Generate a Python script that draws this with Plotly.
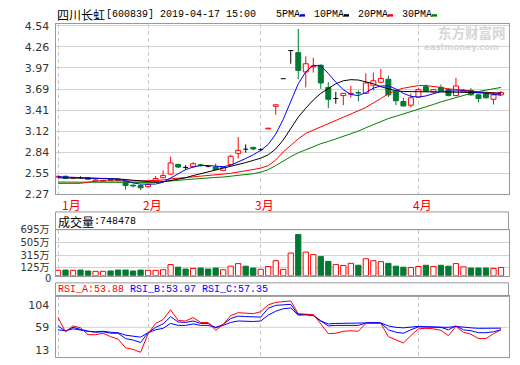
import plotly.graph_objects as go

W, H = 520, 365
def px(x): return x / W
def py(y): return 1 - y / H

# ---------------- data ----------------
stock_name = "四川长虹"
stock_code = "[600839]"
dates = ["2019-01-16","2019-01-17","2019-01-18","2019-01-21","2019-01-22","2019-01-23","2019-01-24","2019-01-25","2019-01-28","2019-01-29",
         "2019-01-30","2019-01-31","2019-02-01","2019-02-11","2019-02-12","2019-02-13","2019-02-14","2019-02-15","2019-02-18","2019-02-19",
         "2019-02-20","2019-02-21","2019-02-22","2019-02-25","2019-02-26","2019-02-27","2019-02-28","2019-03-01","2019-03-04","2019-03-05",
         "2019-03-06","2019-03-07","2019-03-08","2019-03-11","2019-03-12","2019-03-13","2019-03-14","2019-03-15","2019-03-18","2019-03-19",
         "2019-03-20","2019-03-21","2019-03-22","2019-03-25","2019-03-26","2019-03-27","2019-03-28","2019-03-29","2019-04-01","2019-04-02",
         "2019-04-03","2019-04-04","2019-04-08","2019-04-09","2019-04-10","2019-04-11","2019-04-12","2019-04-15","2019-04-16","2019-04-17"]
month_names = ["1月", "2月", "3月", "4月"]

open_ = [2.50,2.51,2.485,2.492,2.49,2.445,2.445,2.465,2.47,2.435,
         2.39,2.385,2.37,2.445,2.49,2.54,2.67,2.632,2.64,2.665,
         2.647,2.635,2.59,2.67,2.82,2.878,2.90,2.868,3.15,3.455,
         3.826,4.206,4.18,3.92,3.99,4.01,3.71,3.558,3.60,3.62,
         3.64,3.63,3.74,3.78,3.82,3.65,3.52,3.47,3.58,3.72,
         3.65,3.71,3.68,3.60,3.65,3.67,3.61,3.62,3.55,3.61]
high = [2.52,2.52,2.50,2.51,2.50,2.47,2.46,2.47,2.48,2.44,
        2.40,2.40,2.41,2.515,2.59,2.775,2.68,2.66,2.70,2.68,
        2.66,2.68,2.64,2.80,3.04,2.94,2.91,2.89,3.16,3.476,
        3.829,4.21,4.50,4.13,4.11,4.02,3.78,3.65,3.635,3.73,
        3.67,3.90,3.91,3.96,3.87,3.66,3.57,3.63,3.70,3.75,
        3.69,3.75,3.70,3.84,3.69,3.70,3.62,3.64,3.64,3.66]
low = [2.49,2.475,2.48,2.48,2.46,2.44,2.44,2.45,2.45,2.33,
       2.36,2.325,2.36,2.44,2.485,2.53,2.62,2.60,2.63,2.64,
       2.63,2.595,2.58,2.66,2.75,2.83,2.86,2.85,3.15,3.34,
       3.826,4.03,3.82,3.71,3.91,3.69,3.43,3.49,3.47,3.57,
       3.52,3.62,3.67,3.77,3.58,3.47,3.45,3.44,3.57,3.65,
       3.64,3.65,3.59,3.59,3.64,3.60,3.51,3.56,3.48,3.60]
close = [2.51,2.48,2.49,2.488,2.47,2.46,2.455,2.455,2.455,2.385,
         2.38,2.355,2.40,2.48,2.52,2.69,2.635,2.628,2.68,2.655,
         2.643,2.60,2.63,2.78,2.86,2.874,2.88,2.872,3.16,3.476,
         3.829,4.21,3.94,4.03,4.00,3.77,3.55,3.562,3.63,3.63,
         3.635,3.77,3.80,3.83,3.61,3.53,3.46,3.57,3.68,3.66,
         3.68,3.66,3.60,3.73,3.67,3.61,3.56,3.57,3.61,3.64]
volume = [83,87,83,87,73,68,68,73,87,87,
          73,87,83,83,92,170,131,102,112,117,
          102,117,92,146,185,146,117,98,141,229,
          98,345,627,360,321,291,219,170,156,189,
          160,258,229,214,189,146,131,127,141,160,
          141,160,146,185,136,117,117,117,112,127]
volume_label = "748478"

ma5 = [2.505,2.50,2.495,2.49,2.49,2.485,2.48,2.475,2.47,2.45,
       2.42,2.405,2.40,2.405,2.43,2.49,2.55,2.60,2.635,2.655,
       2.655,2.645,2.64,2.66,2.70,2.75,2.80,2.86,2.94,3.08,
       3.28,3.52,3.76,3.92,4.01,4.00,3.90,3.78,3.68,3.615,
       3.60,3.64,3.70,3.73,3.73,3.69,3.63,3.59,3.58,3.595,
       3.625,3.655,3.66,3.665,3.665,3.655,3.64,3.63,3.61,3.605]
ma10 = [2.49,2.49,2.49,2.49,2.49,2.487,2.485,2.48,2.475,2.465,
        2.455,2.445,2.435,2.43,2.435,2.45,2.47,2.49,2.52,2.545,
        2.57,2.59,2.61,2.635,2.67,2.695,2.725,2.755,2.80,2.88,
        3.00,3.15,3.31,3.43,3.54,3.63,3.70,3.76,3.80,3.815,
        3.81,3.79,3.76,3.72,3.69,3.665,3.655,3.655,3.655,3.655,
        3.65,3.65,3.645,3.645,3.645,3.64,3.64,3.635,3.635,3.633]
ma20 = [2.415,2.415,2.415,2.415,2.43,2.445,2.448,2.45,2.45,2.448,
        2.447,2.447,2.448,2.45,2.46,2.475,2.483,2.49,2.50,2.51,
        2.52,2.53,2.54,2.55,2.565,2.58,2.595,2.62,2.655,2.73,
        2.84,2.93,3.015,3.09,3.135,3.175,3.22,3.265,3.305,3.35,
        3.395,3.44,3.495,3.56,3.625,3.67,3.70,3.72,3.735,3.735,
        3.725,3.71,3.69,3.685,3.675,3.66,3.65,3.64,3.635,3.63]
ma30 = [2.432,2.431,2.430,2.430,2.429,2.428,2.428,2.427,2.427,2.426,
        2.426,2.426,2.427,2.43,2.435,2.445,2.455,2.465,2.475,2.485,
        2.49,2.495,2.50,2.51,2.52,2.53,2.545,2.565,2.60,2.655,
        2.72,2.775,2.827,2.87,2.915,2.95,2.98,3.015,3.045,3.08,
        3.12,3.165,3.21,3.25,3.29,3.32,3.35,3.385,3.415,3.45,
        3.48,3.515,3.545,3.58,3.60,3.63,3.655,3.675,3.695,3.71]

rsi_a = [79,50,62,58,44,44,47,40,35,17,
         14,8,46,67,75,95,73,72,79,69,
         69,53,65,83,89,88,87,91,105,110,
         112,113,87,86,85,66,46,47,51,52,
         51,67,67,67,40,34,27,42,56,57,
         56,53,42,61,49,45,36,36,46,53.88]
rsi_b = [62,51,59,55,51,49,50,47,47,36,
         33,28,48,59,66,81,70,69,72,67,
         67,58,65,77,82,81,81,80,98,104,
         105,106,85,85,84,72,62,63,63,63,
         63,68,69,68,54,49,47,54,60,60,
         60,59,54,62,54,52,48,48,50,53.97]
rsi_c = [54,52,56,53,51,50,51,49,48,43,
         41,39,48,54,57,67,63,63,66,63,
         63,59,63,69,72,71,71,72,84,92,
         97,98.6,84,85,83,72,66,67,67,67,
         67,68,69,68,62,59,58,59,61,60,
         60,60,59,61,59,58,57,57,58,57.35]

price_tickvals = [2.27, 2.55375, 2.8375, 3.12125, 3.405, 3.68875, 3.9725, 4.25625, 4.54]
price_ticktext = ["2.27", "2.55", "2.84", "3.12", "3.41", "3.69", "3.97", "4.26", "4.54"]
vol_tickvals = [125, 315, 505, 695]
vol_ticktext = ["125万", "315万", "505万", "695万"]
vol_zero_label = "0"
rsi_tickvals = [13, 59, 104]
ma_names = ["5PMA", "10PMA", "20PMA", "30PMA"]

# ---------------- styles ----------------
RED = "#FF0000"
GREEN = "#007A33"
BLUE = "#0000FF"
BLACK = "#000000"
MAGREEN = "#008000"
FRAME = "#999999"
GRID = "#d2d2d2"
VGRID = "#c8c8c8"
MONO = "Liberation Mono, Noto Sans CJK SC, monospace"
CJK = "Noto Sans CJK SC"
SANS = "DejaVu Sans, Noto Sans CJK SC"
BW = 0.66
VW = 0.70
DOJI = 0.005

n = len(dates)
x = list(range(n))
month_idx = [i for i in x if i == 0 or dates[i][:7] != dates[i - 1][:7]]

up = [i for i in x if close[i] - open_[i] >= DOJI]
dn = [i for i in x if open_[i] - close[i] >= DOJI]
dj = [i for i in x if abs(close[i] - open_[i]) < DOJI]

def segs(pairs):
    X, Y = [], []
    for (x0, y0, x1, y1) in pairs:
        X += [x0, x1, None]
        Y += [y0, y1, None]
    return X, Y

fig = go.Figure()

# candle bodies
fig.add_trace(go.Bar(x=up, y=[close[i] - open_[i] for i in up], base=[open_[i] for i in up],
                     width=BW, marker=dict(color="white", line=dict(color=RED, width=1)),
                     xaxis="x", yaxis="y"))
fig.add_trace(go.Bar(x=dn, y=[open_[i] - close[i] for i in dn], base=[close[i] for i in dn],
                     width=BW, marker=dict(color=GREEN, line=dict(color=GREEN, width=1)),
                     xaxis="x", yaxis="y"))
# wicks
wx, wy = segs([(i, low[i], i, open_[i]) for i in up] + [(i, close[i], i, high[i]) for i in up])
fig.add_trace(go.Scatter(x=wx, y=wy, mode="lines", line=dict(color=RED, width=1), xaxis="x", yaxis="y"))
wx, wy = segs([(i, low[i], i, high[i]) for i in dn])
fig.add_trace(go.Scatter(x=wx, y=wy, mode="lines", line=dict(color=GREEN, width=1), xaxis="x", yaxis="y"))
wx, wy = segs([(i, low[i], i, high[i]) for i in dj] +
              [(i - BW / 2, (open_[i] + close[i]) / 2, i + BW / 2, (open_[i] + close[i]) / 2) for i in dj])
fig.add_trace(go.Scatter(x=wx, y=wy, mode="lines", line=dict(color=BLACK, width=1), xaxis="x", yaxis="y"))

# moving averages
for arr, col in [(ma30, MAGREEN), (ma20, RED), (ma10, BLACK), (ma5, BLUE)]:
    fig.add_trace(go.Scatter(x=x, y=arr, mode="lines", line=dict(color=col, width=1),
                             xaxis="x", yaxis="y"))

# volume
vup = [i for i in x if close[i] >= open_[i]]
vdn = [i for i in x if close[i] < open_[i]]
fig.add_trace(go.Bar(x=vup, y=[volume[i] for i in vup], width=VW,
                     marker=dict(color="white", line=dict(color=RED, width=1)), xaxis="x2", yaxis="y2"))
fig.add_trace(go.Bar(x=vdn, y=[volume[i] for i in vdn], width=VW,
                     marker=dict(color=GREEN, line=dict(color=GREEN, width=1)), xaxis="x2", yaxis="y2"))

# RSI
for arr, col in [(rsi_c, BLUE), (rsi_b, BLUE), (rsi_a, RED)]:
    fig.add_trace(go.Scatter(x=x, y=arr, mode="lines", line=dict(color=col, width=1),
                             xaxis="x3", yaxis="y3"))

XL, XR = 55.5, 508.5
xdom = [px(XL), px(XR)]
xr = [-0.333, n]

def xax(anchor):
    return dict(domain=xdom, range=xr, anchor=anchor, tickvals=month_idx, showticklabels=False,
                showgrid=True, gridcolor=VGRID, griddash="4px,3px", gridwidth=1,
                showline=True, mirror=True, linecolor=FRAME, linewidth=1, zeroline=False, ticks="")

tf = dict(family=SANS, size=11, color="#333333")
tf2 = dict(family=SANS, size=10, color="#333333")
fig.update_layout(
    width=W, height=H, margin=dict(l=0, r=0, t=0, b=0),
    paper_bgcolor="white", plot_bgcolor="white", showlegend=False, barmode="overlay",
    xaxis=xax("y"), xaxis2=xax("y2"), xaxis3=xax("y3"),
    yaxis=dict(domain=[py(195.5), py(20)], range=[2.27, 4.562], anchor="x",
               tickvals=price_tickvals, ticktext=price_ticktext, tickfont=tf,
               showgrid=True, gridcolor=GRID, showline=True, mirror=True, linecolor=FRAME,
               zeroline=False, ticks="", ticklabelstandoff=3),
    yaxis2=dict(domain=[py(280), py(232.3)], range=[0, 700], anchor="x2",
                tickvals=vol_tickvals, ticktext=vol_ticktext, tickfont=tf2,
                showgrid=True, gridcolor=GRID, showline=True, mirror=True, linecolor=FRAME,
                zeroline=False, ticks="", ticklabelstandoff=3),
    yaxis3=dict(domain=[py(364), py(301.3)], range=[-1.7, 122.3], anchor="x3",
                tickvals=rsi_tickvals, tickfont=tf,
                showgrid=False, showline=True, mirror=True, linecolor=FRAME,
                zeroline=False, ticks="", ticklabelstandoff=3),
)

shapes = []
# header boxes
shapes.append(dict(type="rect", xref="paper", yref="paper", x0=px(XL), x1=px(XR), y0=py(232.3), y1=py(214),
                   line=dict(color=FRAME, width=1)))
shapes.append(dict(type="rect", xref="paper", yref="paper", x0=px(XL), x1=px(XR), y0=py(301.3), y1=py(287.3),
                   line=dict(color=FRAME, width=1)))
# RSI middle gridline
shapes.append(dict(type="line", xref="x3 domain", yref="y3", x0=0, x1=1, y0=rsi_tickvals[1], y1=rsi_tickvals[1],
                   line=dict(color=GRID, width=1), layer="below"))

ann = []
def text(t, x0, y0, font, size, color, xanchor="left", bold=False):
    ann.append(dict(text=("<b>%s</b>" % t) if bold else t, x=px(x0), y=py(y0), xref="paper", yref="paper",
                    xanchor=xanchor, yanchor="middle", showarrow=False,
                    font=dict(family=font, size=size, color=color), borderpad=0))

# title
text(stock_name, 56, 9.5, CJK, 12, "#000")
text("%s %s 15:00" % (stock_code, dates[-1]), 105, 9.5, MONO, 10, "#000")
# MA legend
ma_cols = [BLUE, BLACK, RED, MAGREEN]
lx = 275
for name, col in zip(ma_names, ma_cols):
    text(name, lx, 9.5, MONO, 10, "#000")
    lx += 6 * len(name) + 1
    shapes.append(dict(type="rect", xref="paper", yref="paper", x0=px(lx), x1=px(lx + 5),
                       y0=py(12), y1=py(9.5), line=dict(width=0), fillcolor=col))
    lx += 13
# watermark
text("东方财富网", 472, 27.5, CJK, 13.5, "#d6d6d6", xanchor="center", bold=True)
text("eastmoney.com", 461, 43, SANS, 8.5, "#d6d6d6", xanchor="center", bold=True)

# month labels
for k, (i, name) in enumerate(zip(month_idx, month_names)):
    ann.append(dict(text=name, x=i, xref="x", y=py(206.5), yref="paper", showarrow=False,
                    xanchor="left" if k == 0 else "center", xshift=2 if k == 0 else 4, yanchor="middle",
                    font=dict(family=CJK, size=12, color=RED)))

# volume zero label (bottom of the volume axis)
text(vol_zero_label, 52, 282.5, SANS, 10, "#333333", xanchor="right")

# volume header
text("成交量", 57, 223.5, CJK, 12, "#000")
text(":" + volume_label, 93, 223.5, MONO, 10, "#000")
# RSI header
text("RSI_A:%.2f" % rsi_a[-1], 57, 294, MONO, 10, RED)
text("RSI_B:%.2f" % rsi_b[-1], 129, 294, MONO, 10, BLUE)
text("RSI_C:%.2f" % rsi_c[-1], 201, 294, MONO, 10, BLUE)

fig.update_layout(shapes=shapes, annotations=ann)
fig.write_html("out.html")
